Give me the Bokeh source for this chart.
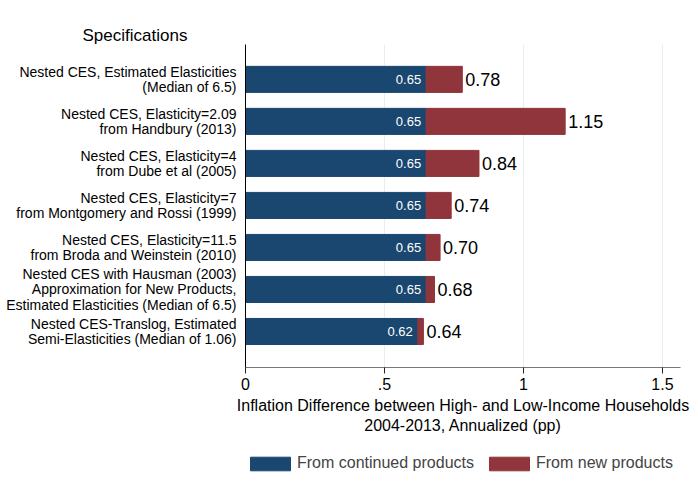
from bokeh.plotting import figure
from bokeh.layouts import column
from bokeh.models import FixedTicker, Legend, LegendItem, Title, ColumnDataSource
from bokeh.core.properties import value
from bokeh.embed import file_html
from bokeh.resources import INLINE

specs = [
    "Nested CES, Estimated Elasticities\n(Median of 6.5)",
    "Nested CES, Elasticity=2.09\nfrom Handbury (2013)",
    "Nested CES, Elasticity=4\nfrom Dube et al (2005)",
    "Nested CES, Elasticity=7\nfrom Montgomery and Rossi (1999)",
    "Nested CES, Elasticity=11.5\nfrom Broda and Weinstein (2010)",
    "Nested CES with Hausman (2003)\nApproximation for New Products,\nEstimated Elasticities (Median of 6.5)",
    "Nested CES-Translog, Estimated\nSemi-Elasticities (Median of 1.06)",
]
continued = [0.65, 0.65, 0.65, 0.65, 0.65, 0.65, 0.62]
total = [0.78, 1.15, 0.84, 0.74, 0.70, 0.68, 0.64]
x_ticks = [0, 0.5, 1, 1.5]
x_tick_labels = ["0", ".5", "1", "1.5"]
series_names = ["From continued products", "From new products"]

n = len(specs)
ypos = [n - i for i in range(n)]
src = ColumnDataSource(dict(
    y=ypos, cont=continued, total=total,
    cont_lbl=["%.2f" % v for v in continued],
    total_lbl=["%.2f" % v for v in total],
))

FONT = "Liberation Sans"
BLUE = "#1a476f"
RED = "#90353b"

p = figure(width=698, height=445, output_backend="svg", toolbar_location=None,
           x_range=(0, 1.565), y_range=(0.143, 7.83),
           min_border_left=245, min_border_right=18, min_border_top=44, min_border_bottom=78)
p.outline_line_color = None

r1 = p.hbar(y="y", left=0, right="cont", height=0.62, source=src,
            fill_color=BLUE, line_color=BLUE)
r2 = p.hbar(y="y", left="cont", right="total", height=0.62, source=src,
            fill_color=RED, line_color=RED)

p.text(x="cont", y="y", text="cont_lbl", source=src, x_offset=-5,
       text_align="right", text_baseline="middle", text_color="white",
       text_font_size="13px", text_font=value(FONT))
p.text(x="total", y="y", text="total_lbl", source=src, x_offset=3,
       text_align="left", text_baseline="middle", text_color="black",
       text_font_size="18px", text_font=value(FONT))

# axes
p.xaxis.ticker = FixedTicker(ticks=x_ticks)
p.xaxis.major_label_overrides = {t: l for t, l in zip(x_ticks, x_tick_labels)}
p.xaxis.major_label_text_font = FONT
p.xaxis.major_label_text_font_size = "16px"
p.xaxis.major_label_text_color = "black"
p.xaxis.major_label_standoff = 4
p.xaxis.axis_line_color = "#777777"
p.xaxis.major_tick_line_color = "#222222"
p.xaxis.major_tick_out = 6
p.xaxis.major_tick_in = 0
p.xaxis.minor_tick_line_color = None
p.xaxis.axis_label = "Inflation Difference between High- and Low-Income Households\n2004-2013, Annualized (pp)"
p.xaxis.axis_label_text_font = FONT
p.xaxis.axis_label_text_font_size = "16px"
p.xaxis.axis_label_text_font_style = "normal"
p.xaxis.axis_label_text_color = "black"
p.xaxis.axis_label_standoff = 4

p.yaxis.ticker = FixedTicker(ticks=ypos)
p.yaxis.major_label_overrides = {y: s for y, s in zip(ypos, specs)}
p.yaxis.major_label_text_font = FONT
p.yaxis.major_label_text_font_size = "14px"
p.yaxis.major_label_text_line_height = 0.95
p.yaxis.major_label_text_color = "black"
p.yaxis.axis_line_color = "black"
p.yaxis.major_tick_line_color = None
p.yaxis.minor_tick_line_color = None
p.yaxis.major_label_standoff = 3

p.xgrid.grid_line_color = "#e6eef0"
p.ygrid.grid_line_color = None

p.title = Title(text="Specifications", align="left", offset=-163, standoff=0,
                text_font=FONT, text_font_size="17px", text_font_style="normal",
                text_color="black")

# legend strip (swatches take their colours from the series renderers below,
# drawn into an empty y-range so only the legend is visible)
q = figure(width=698, height=45, output_backend="svg", toolbar_location=None,
           x_axis_type=None, y_axis_type=None,
           min_border_left=245, min_border_right=18, min_border_top=0, min_border_bottom=0,
           x_range=(0, 1.565), y_range=(100, 101))
q.outline_line_color = None
q.xgrid.grid_line_color = None
q.ygrid.grid_line_color = None
lr1 = q.hbar(y="y", left=0, right="cont", height=0.62, source=src,
             fill_color=BLUE, line_color=BLUE)
lr2 = q.hbar(y="y", left="cont", right="total", height=0.62, source=src,
             fill_color=RED, line_color=RED)
legend = Legend(items=[LegendItem(label=series_names[0], renderers=[lr1]),
                       LegendItem(label=series_names[1], renderers=[lr2])],
                orientation="horizontal", location=(0, 18),
                glyph_width=50, glyph_height=17, label_standoff=2, spacing=10,
                label_text_font=FONT, label_text_font_size="16px",
                border_line_color=None, background_fill_alpha=0,
                margin=0, padding=0)
q.add_layout(legend)

open("out.html", "w").write(file_html(column(p, q, spacing=0), INLINE))
